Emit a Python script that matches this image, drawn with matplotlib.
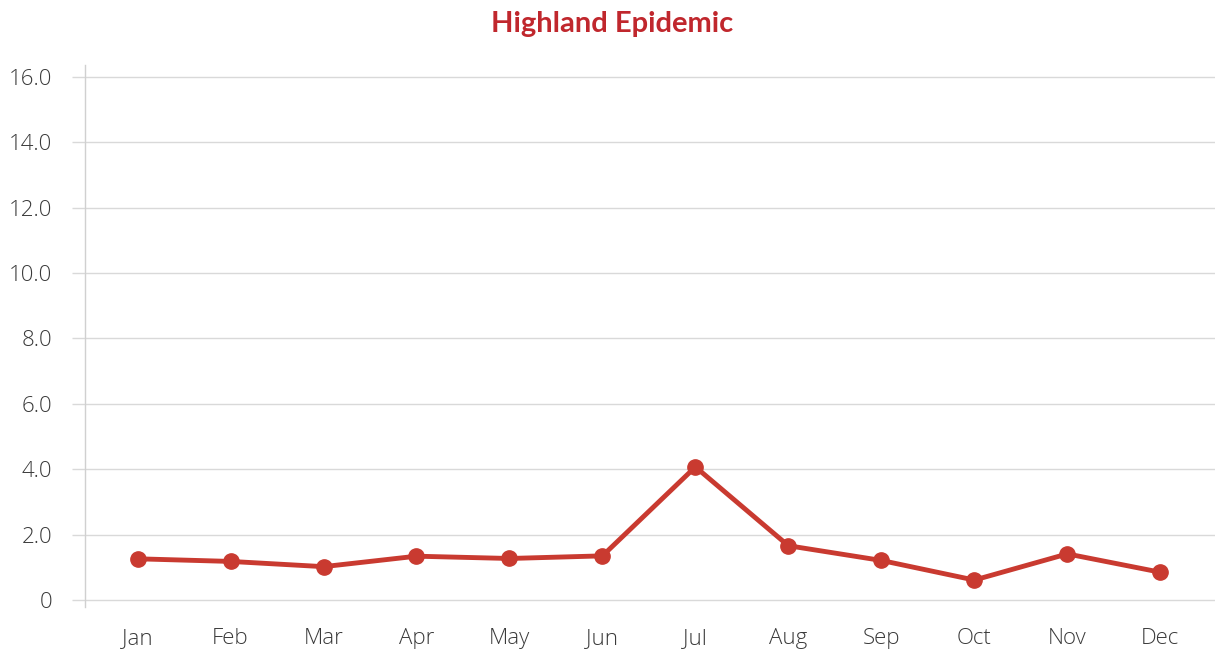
import matplotlib
matplotlib.use("Agg")
import matplotlib.pyplot as plt

months = ["Jan", "Feb", "Mar", "Apr", "May", "Jun",
          "Jul", "Aug", "Sep", "Oct", "Nov", "Dec"]
values = [1.26, 1.18, 1.02, 1.34, 1.27, 1.35,
          4.07, 1.66, 1.21, 0.61, 1.41, 0.85]
yticks = [0, 2, 4, 6, 8, 10, 12, 14, 16]
ytick_labels = ["0", "2.0", "4.0", "6.0", "8.0", "10.0", "12.0", "14.0", "16.0"]

plt.rcParams['font.family'] = ['Open Sans', 'DejaVu Sans']

fig = plt.figure(figsize=(12.2, 6.52), dpi=100)
ax = fig.add_axes([0.0697, 0.069, 0.9263, 0.8313])

x = list(range(len(months)))
ax.plot(x, values, color="#c93a30", linewidth=3.5, marker="o",
        markersize=11, solid_capstyle="round", zorder=3)

ax.set_xlim(-0.565, 11.59)
ax.set_ylim(-0.214, 16.36)
ax.set_yticks(yticks)
ax.set_yticklabels(ytick_labels)
ax.set_xticks(x)
ax.set_xticklabels(months)

ax.grid(axis="y", color="#d9d9d9", linewidth=1)
ax.set_axisbelow(True)
for side in ["top", "right", "bottom"]:
    ax.spines[side].set_visible(False)
ax.spines["left"].set_color("#d0d0d0")
ax.spines["left"].set_linewidth(1)

ax.tick_params(axis="y", length=9.5, width=1, color="#d9d9d9", pad=14,
               labelsize=16, labelcolor="#3a3a3a")
ax.tick_params(axis="x", length=0, pad=15, labelsize=16, labelcolor="#3a3a3a")
for lab in ax.get_xticklabels() + ax.get_yticklabels():
    lab.set_fontweight("light")

fig.text(0.502, 0.963, "Highland Epidemic", ha="center", va="center",
         fontsize=21, fontweight="bold", color="#c0272d", family="Lato")

fig.savefig("out.png", dpi=100)
